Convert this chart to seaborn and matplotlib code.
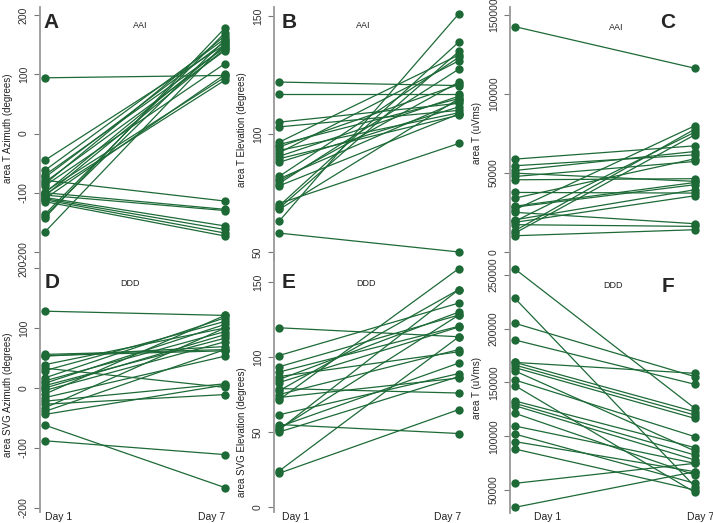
import pandas as pd
import numpy as np
import seaborn as sns
import matplotlib.pyplot as plt

# values, paired Day 1 -> Day 7 per subject
a_day1 = [94, -45, -62, -70, -74, -82, -85, -88, -100, -103, -105, -110, -136, -142, -166,
          -79, -100, -104, -108, -110, -112, -115, -139, -98]
a_day7 = [98, 150, 160, 145, 155, 140, 165, 118, 148, 90, 143, 100, 170, 178, 152,
          -114, -128, -130, -156, -162, -168, -173, 158, 95]

b_day1 = [122, 117, 105, 103, 96.5, 95.5, 94.5, 93, 92, 90.5, 89.5, 88, 82, 81, 80, 79, 78,
          70.5, 69.5, 68, 63, 58, 68.5]
b_day7 = [120.5, 117, 113, 110, 133.5, 115, 121, 109, 131, 116, 108, 111.5, 132.5, 114, 122,
          127.5, 108.5, 96, 139, 115, 151, 50, 135]

c_day1 = [142600, 58800, 54600, 51600, 49900, 47800, 45700, 37700, 34100, 28400, 26800,
          25100, 20400, 18800, 17300, 13500, 12000, 10300, 19500, 29000]
c_day7 = [116300, 67200, 61500, 63600, 44700, 57300, 46400, 37300, 59000, 42600, 79900,
          17900, 39400, 35600, 16200, 77800, 74200, 14100, 75900, 44000]

d_day1 = [128, -88, -62, 56, 53, 33, 29, 39, 17, 12, 8, 4, 0, -4, -10, -16, -22, -27, -33,
          -39, -44, 54]
d_day7 = [121, -111, -166, 64, 69, 1, 111, 100, 117, 94, 106, 83, 89, 77, 121, 53, 7, -11,
          100, 64, 5, 62]

e_day1 = [119.5, 101, 93.5, 90, 87, 85, 83, 79, 77.5, 75, 71.5, 61.5, 55, 53.5, 51.5, 50,
          24, 22.5, 73, 52]
e_day7 = [113.5, 136, 128, 120.5, 103.5, 130, 120, 76, 145, 105, 159, 89, 49, 96, 145, 87,
          113.5, 65, 86, 128]

f_day1 = [255500, 228200, 205000, 189500, 168700, 166200, 163800, 160700, 152300, 147000,
          132800, 130600, 128400, 121300, 109500, 102000, 95000, 88100, 56200, 33900, 168700]
f_day7 = [125900, 53100, 155400, 148300, 122800, 119700, 116600, 86300, 99600, 47800,
          89400, 82500, 77900, 63900, 74800, 56200, 67000, 50000, 74800, 67000, 158500]

day_labels = ["Day 1", "Day 7"]

green = "#1d6a37"
W, H = 713, 523

sns.set_style("white")
plt.rcParams['font.family'] = ['Liberation Sans', 'DejaVu Sans']
plt.rcParams['axes.unicode_minus'] = False

fig = plt.figure(figsize=(W / 100, H / 100), dpi=100)


def px_axes(spine_x, top, bottom, width=195):
    return fig.add_axes([spine_x / W, 1 - bottom / H, width / W, (bottom - top) / H])


def draw_panel(ax, day1, day7, ylim, ticks):
    df = pd.DataFrame({
        "id": list(range(len(day1))) * 2,
        "day": [0] * len(day1) + [1] * len(day7),
        "value": list(day1) + list(day7),
    })
    sns.lineplot(data=df, x="day", y="value", units="id", estimator=None, color=green,
                 marker="o", markersize=6, markeredgewidth=0, linewidth=0.9, ax=ax,
                 legend=False)
    ax.set_xlim(-0.028, 1.056)
    ax.set_ylim(*ylim)
    ax.set_xlabel("")
    ax.set_ylabel("")
    ax.set_xticks([])
    ax.set_yticks(ticks)
    ax.set_yticklabels([str(t) for t in ticks], rotation=90, va="center")
    ax.tick_params(axis="y", length=4, width=0.8, color="#777777", labelsize=7.5,
                   labelcolor="#333333", pad=4, left=True)
    for s in ["top", "right", "bottom"]:
        ax.spines[s].set_visible(False)
    ax.spines["left"].set_color("#999999")
    ax.spines["left"].set_linewidth(1.3)
    ax.patch.set_alpha(0)


panels = [
    (40, 7, 260, a_day1, a_day7, (-213.5, 213.5), [-200, -100, 0, 100, 200]),
    (274, 7, 260, b_day1, b_day7, (46.6, 153.8), [50, 100, 150]),
    (510, 7, 260, c_day1, c_day7, (-5063, 155063), [0, 50000, 100000, 150000]),
    (40, 262, 512, d_day1, d_day7, (-206.7, 210), [-200, -100, 0, 100, 200]),
    (274, 255, 512, e_day1, e_day7, (-3.3, 168), [0, 50, 100, 150]),
    (510, 255, 513, f_day1, f_day7, (28600, 268600), [50000, 100000, 150000, 200000, 250000]),
]

axes = []
for sx, top, bot, d1, d7, ylim, ticks in panels:
    ax = px_axes(sx, top, bot)
    draw_panel(ax, d1, d7, ylim, ticks)
    axes.append(ax)

# panel letters and group labels (pixel positions)
letters = [("A", 51, 22), ("B", 289, 22), ("C", 668, 22), ("D", 52, 282), ("E", 289, 282), ("F", 668, 286)]
for txt, x, y in letters:
    fig.text(x / W, 1 - y / H, txt, fontsize=15, fontweight="bold", ha="center", va="center")

groups = [("AAI", 140, 25), ("AAI", 363, 25), ("AAI", 616, 28),
          ("DDD", 130, 283), ("DDD", 366, 283), ("DDD", 613, 285)]
for txt, x, y in groups:
    fig.text(x / W, 1 - y / H, txt, fontsize=6.5, ha="center", va="center", color="#222222")

ylabels = [("area T Azimuth (degrees)", 8, 128), ("area T Elevation (degrees)", 242, 130),
           ("area T (uVms)", 477, 133), ("area SVG Azimuth (degrees)", 8, 395),
           ("area SVG Elevation (degrees)", 242, 432), ("area T (uVms)", 477, 388)]
for txt, x, y in ylabels:
    fig.text(x / W, 1 - y / H, txt, fontsize=7, rotation=90, ha="center", va="center",
             color="#222222")

# Day labels on bottom row
day_pos = [(45, "left"), (225, "right"), (282, "left"), (461, "right"), (548, "center"), (701, "center")]
for i, (x, ha) in enumerate(day_pos):
    fig.text(x / W, 1 - 517 / H, day_labels[i % 2], fontsize=7.5, ha=ha, va="center",
             color="#222222")

fig.savefig("out.png", dpi=100)
